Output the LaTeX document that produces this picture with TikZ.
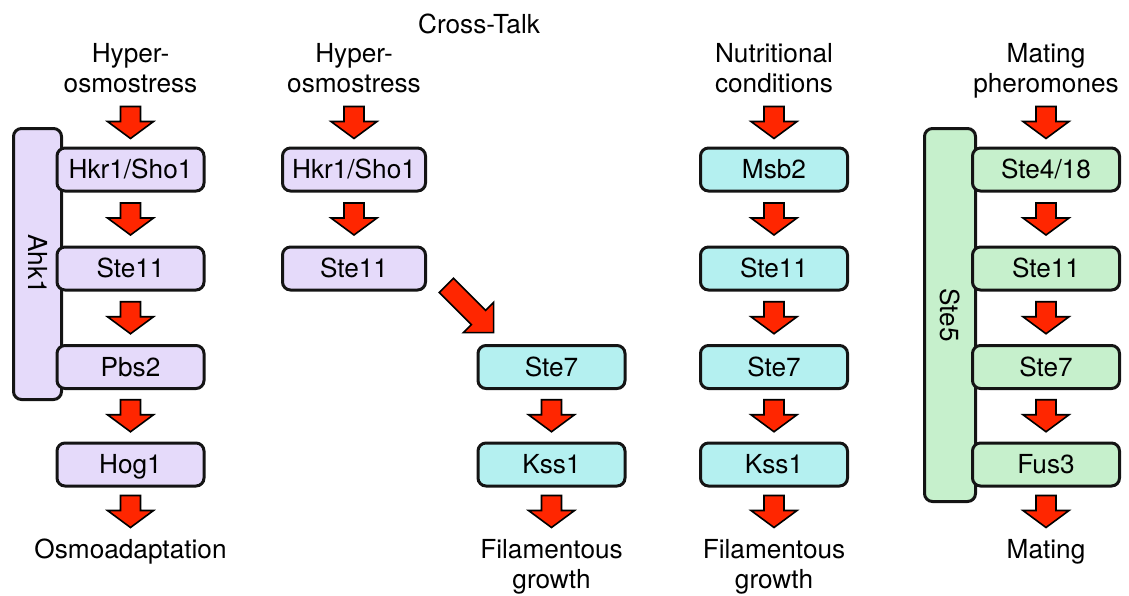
\documentclass[tikz,border=0pt]{standalone}
\usepackage{fontspec}
\setmainfont{TeX Gyre Heros}
\usetikzlibrary{calc}

\definecolor{lav}{RGB}{229,218,250}
\definecolor{aqua}{RGB}{180,240,240}
\definecolor{mint}{RGB}{198,240,204}
\definecolor{signal}{RGB}{255,38,0}
\definecolor{ink}{RGB}{20,20,20}

\tikzset{
  every node/.style={font=\fontsize{26.2}{30.5}\selectfont, inner sep=0pt},
  kinase/.style={draw=ink, line width=3pt, rounded corners=8pt,
    minimum width=147pt, minimum height=43pt, text height=18.8pt, text depth=0pt},
  scaffold/.style={draw=ink, line width=3pt, rounded corners=8pt,
    rotate=-90, text height=18.8pt, text depth=0pt},
  caption/.style={align=center, anchor=north},
  arrowpaint/.style={draw=black, line width=1.6pt, fill=signal, line join=miter},
  % block arrow along +x, centred on the origin: {length}{head length}{head half width}
  pics/blockarrow/.style n args={3}{code={
    \draw[arrowpaint] ({-#1/2},-10) -- ({#1/2-#2},-10) -- ({#1/2-#2},{-#3})
      -- ({#1/2},0) -- ({#1/2-#2},{#3}) -- ({#1/2-#2},10) -- ({-#1/2},10) -- cycle;
  }},
}

\begin{document}
\begin{tikzpicture}[x=1pt, y=-1pt]
\useasboundingbox (0,0) rectangle (1129,595);

% scaffold bars sit behind the kinase boxes
\node[scaffold, fill=lav, minimum width=271pt, minimum height=48pt] (ahk1) at (37.5,264) {Ahk1};
\node[scaffold, fill=mint, minimum width=373pt, minimum height=51pt] (ste5) at (950,315) {Ste5};

% osmotic pathway
\node[kinase, fill=lav] (a1) at (130.5,169.5) {Hkr1/Sho1};
\node[kinase, fill=lav] (a2) at (130.5,268.5) {Ste11};
\node[kinase, fill=lav] (a3) at (130.5,367)   {Pbs2};
\node[kinase, fill=lav] (a4) at (130.5,464.5) {Hog1};

% cross-talk branch
\node[kinase, fill=lav, minimum width=143pt] (b1) at (354,169.5) {Hkr1/Sho1};
\node[kinase, fill=lav, minimum width=143pt] (b2) at (354,268.5) {Ste11};
\node[kinase, fill=aqua] (c3) at (551.5,367)   {Ste7};
\node[kinase, fill=aqua] (c4) at (551.5,464.5) {Kss1};

% filamentous growth pathway
\node[kinase, fill=aqua] (d1) at (774,169.5) {Msb2};
\node[kinase, fill=aqua] (d2) at (774,268.5) {Ste11};
\node[kinase, fill=aqua] (d3) at (774,367)   {Ste7};
\node[kinase, fill=aqua] (d4) at (774,464.5) {Kss1};

% mating pathway
\node[kinase, fill=mint] (e1) at (1046,169.5) {Ste4/18};
\node[kinase, fill=mint] (e2) at (1046,268.5) {Ste11};
\node[kinase, fill=mint] (e3) at (1046,367)   {Ste7};
\node[kinase, fill=mint] (e4) at (1046,464.5) {Fus3};

% stimuli
\node[anchor=base] (xtalk) at (479,33) {Cross-Talk};
\node[caption] (s1) at (130.5,43) {Hyper-\\osmostress};
\node[caption] (s2) at (354,43)   {Hyper-\\osmostress};
\node[caption] (s4) at (774,43)   {Nutritional\\conditions};
\node[caption] (s5) at (1046,43)  {Mating\\pheromones};

% outputs
\node[caption] (o1) at (130.5,539) {Osmoadaptation};
\node[caption] (o3) at (551.5,539) {Filamentous\\growth};
\node[caption] (o4) at (774,539)   {Filamentous\\growth};
\node[caption] (o5) at (1046,539)  {Mating};

% stimulus arrows
\foreach \b in {a1,b1,d1,e1}
  \pic[rotate=-90] at ($(\b.north)+(0,-24)$) {blockarrow={32}{17}{23}};

% arrows between consecutive kinases
\foreach \u/\v in {a1/a2,a2/a3,a3/a4,b1/b2,c3/c4,d1/d2,d2/d3,d3/d4,e1/e2,e2/e3,e3/e4}
  \pic[rotate=-90] at ($(\u.south)!0.5!(\v.north)$) {blockarrow={32}{17}{23}};

% output arrows
\foreach \b in {a4,c4,d4,e4}
  \pic[rotate=-90] at ($(\b.south)+(0,24)$) {blockarrow={32}{17}{23}};

% cross-talk arrow from Ste11 towards Ste7
\pic[rotate=-45] at ($(b2.east)+(43,40.5)$) {blockarrow={67}{21.5}{21.5}};
\end{tikzpicture}
\end{document}
